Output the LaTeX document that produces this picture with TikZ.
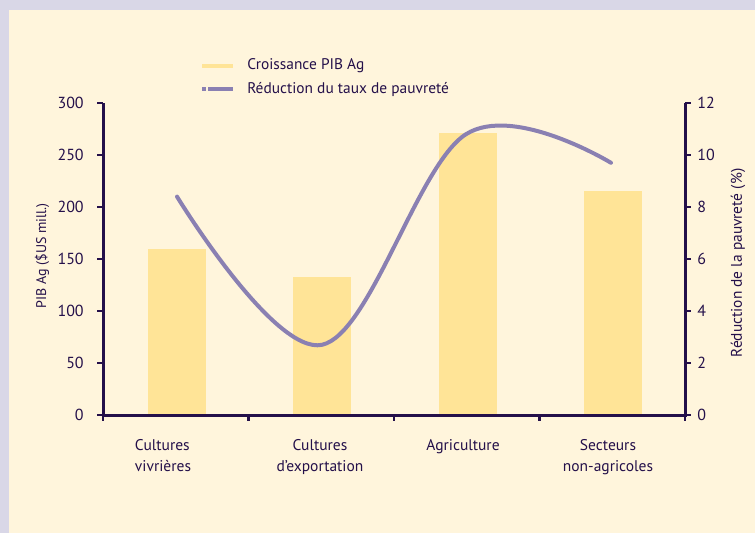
\documentclass[tikz,border=0pt]{standalone}
\usepackage{fontspec}
\setmainfont{PT Sans}
\usetikzlibrary{positioning}
\definecolor{frame}{HTML}{D9D7E7}
\definecolor{paper}{HTML}{FFF5DC}
\definecolor{ink}{HTML}{24104A}
\definecolor{curve}{HTML}{8A80B2}
\definecolor{bar}{HTML}{FFE497}

\begin{document}
\begin{tikzpicture}[
                x = 1pt, y = -1pt, % pixel units, y goes down
                font = \fontsize{15.4}{17}\selectfont,
                semithick % line style
            ]

            \tikzstyle{every node}=[text = ink, inner sep = 0pt]
            \tikzstyle{axis}=[draw = ink, line width = 3pt]
            \tikzstyle{tick}=[draw = ink, line width = 2.4pt]
            \tikzstyle{ticklabel}=[font = \fontsize{16}{18}\selectfont]
            \tikzstyle{catlabel}=[font = \fontsize{15.5}{21}\selectfont,
            align = center, anchor = north]

            % background
            \fill[frame] (0,0) rectangle (755,533);
            \fill[paper] (9,10) rectangle (755,533);

            % bars
            \foreach \v [count=\i] in {160,133,271,215}
                \fill[bar] ({103+145.5*(\i-0.5)-28}, 415) rectangle ++(58,{-\v*1.04});

            % axes
            \coordinate (o) at (103,415); \coordinate (ytop) at (103,103);
            \coordinate (xend) at (685,415); \coordinate (rtop) at (685,103);
            \draw[axis] (ytop) -- (o) -- (xend) -- (rtop);

            \foreach \v in {0,50,...,300} {
                \draw[tick] (97,{415-\v*1.04}) -- (103,{415-\v*1.04});
                \node[ticklabel, anchor = east] (l\v) at (84,{415-\v*1.04}) {\v};
            }
            \foreach \r in {0,2,...,12} {
                \draw[tick] (685,{415-\r*26}) -- (691,{415-\r*26});
                \node[ticklabel, anchor = west] (r\r) at (697,{415-\r*26}) {\r};
            }
            \foreach \i in {0,...,4}
                \draw[tick] ({103+145.5*\i},415) -- ++(0,6);

            \node[rotate = 90, font = \fontsize{14}{16}\selectfont] (ytitle) at (42,256)
                {PIB Ag (\$US mill.)};
            \node[rotate = 90] (rtitle) at (738,263) {Réduction de la pauvreté (\%)};

            % categories
            \node[catlabel, align = left] (c1) at (163,439) {Cultures\\vivrières};
            \node[catlabel] (c2) at (320,439) {Cultures\\d'exportation};
            \node[catlabel] (c3) at (463,439) {Agriculture};
            \node[catlabel] (c4) at (608,439) {Secteurs\\non-agricoles};

            % poverty curve
            \coordinate (p1) at (177,{415-8.4*26}); \coordinate (p2) at (322,{415-2.7*26});
            \coordinate (p3) at (466,{415-10.8*26}); \coordinate (p4) at (611,{415-9.7*26});
            \draw[curve, line width = 4pt, line cap = round]
                plot[smooth, tension = 0.6] coordinates {(p1) (p2) (p3) (p4)};

            % legend
            \coordinate (k1) at (202,66); \coordinate (k2) at (233,66);
            \coordinate (k3) at (202,89); \coordinate (k4) at (233,89);
            \draw[bar, line width = 4pt] (k1) -- (k2);
            \draw[curve, line width = 4pt, dash pattern = on 4pt off 2pt on 40pt] (k3) -- (k4);
            \node[anchor = west] (leg1) at (247,66) {Croissance PIB Ag};
            \node[anchor = west] (leg2) at (247,89) {Réduction du taux de pauvreté};

        \end{tikzpicture}
\end{document}
